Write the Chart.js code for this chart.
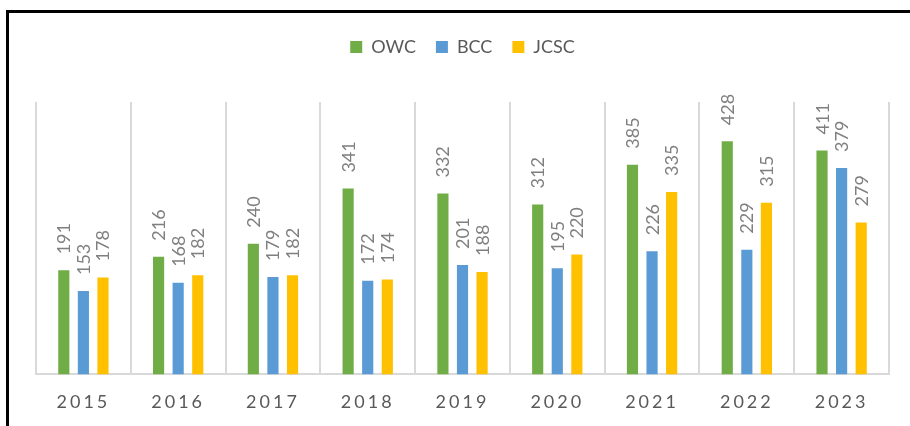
<!DOCTYPE html>
<html>
<head>
<meta charset="utf-8">
<script src="https://cdn.jsdelivr.net/npm/chart.js@4/dist/chart.umd.min.js"></script>
<style>
    html, body { margin: 0; padding: 0; background: #fff; overflow: hidden; }
    #frame {
        position: absolute; left: 6px; top: 10px;
        width: 1000px; height: 500px;
        border-top: 3px solid #000; border-left: 3px solid #000;
    }
    #chart { position: absolute; left: 0; top: 0; }
</style>
</head>
<body>
<div id="frame"></div>
<canvas id="chart" width="910" height="430"></canvas>
<script>
const years = ['2015', '2016', '2017', '2018', '2019', '2020', '2021', '2022', '2023'];
const owc = [191, 216, 240, 341, 332, 312, 385, 428, 411];
const bcc = [153, 168, 179, 172, 201, 195, 226, 229, 379];
const jcsc = [178, 182, 182, 174, 188, 220, 335, 315, 279];

const fontName = 'Lato, "Open Sans", sans-serif';

// category axis with spaced-out year labels
class SpacedCategory extends Chart.CategoryScale {
    drawLabels(area) {
        const ctx = this.ctx;
        ctx.save();
        ctx.letterSpacing = '3px';
        super.drawLabels(area);
        ctx.restore();
    }
}
SpacedCategory.id = 'spacedCategory';
SpacedCategory.defaults = Chart.CategoryScale.defaults;
Chart.register(SpacedCategory);

// more room between legend and plot
const legendGap = {
    id: 'legendGap',
    beforeInit(chart) {
        const fit = chart.legend.fit;
        chart.legend.fit = function () {
            fit.bind(chart.legend)();
            this.height += 36;
        };
    }
};

// rotated value labels above each bar
const barValues = {
    id: 'barValues',
    afterDatasetsDraw(chart) {
        const ctx = chart.ctx;
        ctx.save();
        ctx.font = '18px ' + fontName;
        ctx.fillStyle = '#7f7f7f';
        ctx.textAlign = 'left';
        ctx.textBaseline = 'alphabetic';
        chart.data.datasets.forEach((ds, i) => {
            chart.getDatasetMeta(i).data.forEach((bar, j) => {
                ctx.save();
                ctx.translate(bar.x, bar.y - 16);
                ctx.rotate(-Math.PI / 2);
                ctx.fillText(String(ds.data[j]), 0, 6.5);
                ctx.restore();
            });
        });
        ctx.restore();
    }
};

new Chart(document.querySelector('#chart'), {
    type: 'bar',
    data: {
        labels: years,
        datasets: [
            { label: 'OWC', data: owc, backgroundColor: '#70AD47' },
            { label: 'BCC', data: bcc, backgroundColor: '#5B9BD5' },
            { label: 'JCSC', data: jcsc, backgroundColor: '#FFC000' }
        ]
    },
    options: {
        responsive: false,
        animation: false,
        datasets: {
            bar: { categoryPercentage: 0.62, barPercentage: 0.57 }
        },
        layout: {
            padding: { left: 36, right: 21, top: 18, bottom: 0 }
        },
        plugins: {
            legend: {
                position: 'top',
                labels: {
                    boxWidth: 12,
                    boxHeight: 12,
                    padding: 20,
                    color: '#595959',
                    font: { family: fontName, size: 18 }
                }
            },
            tooltip: { enabled: false }
        },
        scales: {
            x: {
                type: 'spacedCategory',
                grid: { color: '#d9d9d9', lineWidth: 2, drawTicks: false, offset: true },
                border: { color: '#d9d9d9', width: 2 },
                ticks: {
                    color: '#595959',
                    padding: 17,
                    font: { family: fontName, size: 18 }
                }
            },
            y: {
                display: false,
                min: 0,
                max: 500
            }
        }
    },
    plugins: [legendGap, barValues]
});
</script>
</body>
</html>
